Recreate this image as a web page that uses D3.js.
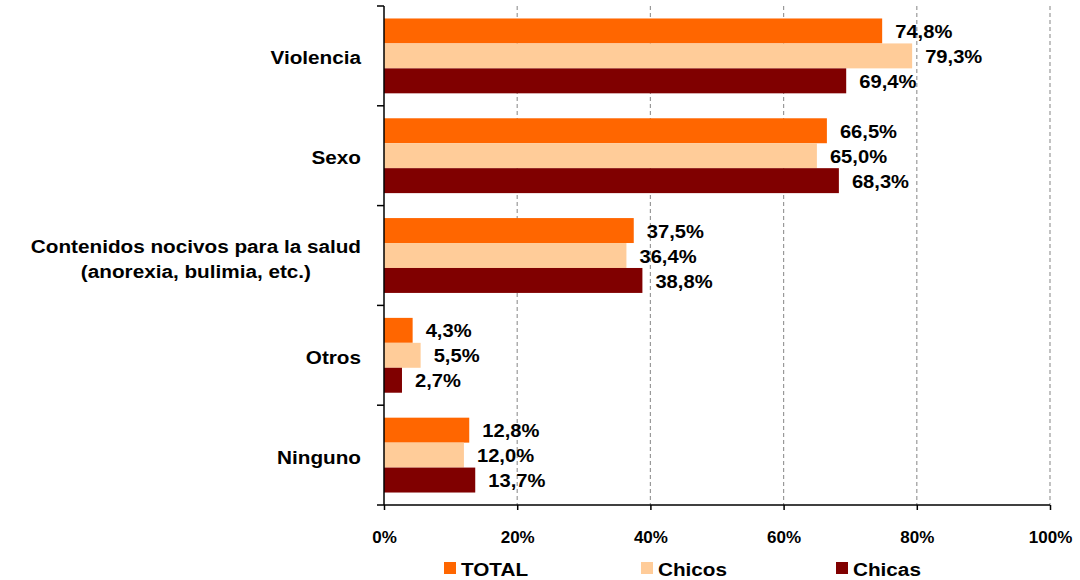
<!DOCTYPE html>
<html>
<head>
<meta charset="utf-8">
<script src="https://cdn.jsdelivr.net/npm/d3@7/dist/d3.min.js"></script>
<style>
html,body{margin:0;padding:0;background:#fff;}
svg{display:block;}
text{font-family:"Liberation Sans",Arial,sans-serif;font-weight:bold;fill:#000;}
</style>
</head>
<body>
<svg id="chart" width="1080" height="580"></svg>
<script>
const categories = [["Violencia"], ["Sexo"], ["Contenidos nocivos para la salud", "(anorexia, bulimia, etc.)"], ["Otros"], ["Ninguno"]];
const seriesNames = ["TOTAL", "Chicos", "Chicas"];
const totalValues = [74.8, 66.5, 37.5, 4.3, 12.8];
const chicosValues = [79.3, 65.0, 36.4, 5.5, 12.0];
const chicasValues = [69.4, 68.3, 38.8, 2.7, 13.7];
const colors = ["#FF6600", "#FFCC99", "#800000"];
const xTicks = [0, 20, 40, 60, 80, 100];

const seriesValues = [totalValues, chicosValues, chicasValues];
const catKeys = categories.map(c => c.join(" "));

const svg = d3.select("#chart");
const pLeft = 384, pRight = 1050, pTop = 6, pBottom = 505;
const SX = 1.12; // horizontal text stretch

const x = d3.scaleLinear().domain([0, 100]).range([pLeft, pRight]);
const y0 = d3.scaleBand().domain(catKeys).range([pTop, pBottom]).paddingInner(0.25).paddingOuter(0.125);
const y1 = d3.scaleBand().domain(seriesNames).range([0, y0.bandwidth()]);

const loc = d3.formatLocale({decimal: ",", thousands: ".", grouping: [3], currency: ["", "€"]});
const fmt = loc.format(".1f");

// gridlines
svg.append("g").selectAll("line").data(xTicks.filter(t => t > 0)).join("line")
  .attr("x1", d => x(d)).attr("x2", d => x(d))
  .attr("y1", pTop).attr("y2", pBottom)
  .attr("stroke", "#999").attr("stroke-width", 1.2).attr("stroke-dasharray", "4,3");

// bars
const groups = svg.append("g").selectAll("g").data(catKeys).join("g")
  .attr("transform", d => `translate(0,${y0(d)})`);

groups.each(function(cat, ci) {
  const g = d3.select(this);
  seriesNames.forEach((s, si) => {
    const v = seriesValues[si][ci];
    g.append("rect")
      .attr("x", x(0)).attr("y", y1(s))
      .attr("width", x(v) - x(0)).attr("height", y1.bandwidth())
      .attr("fill", colors[si]);
    g.append("text")
      .attr("transform", `translate(${x(v) + 13},${y1(s) + y1.bandwidth() / 2 + 1}) scale(${SX},1)`)
      .attr("dominant-baseline", "central")
      .attr("font-size", 18)
      .text(fmt(v) + "%");
  });
});

// x axis
const xAxis = d3.axisBottom(x).tickValues(xTicks).tickSize(5).tickFormat(d => d + "%");
const gx = svg.append("g").attr("transform", `translate(0,${pBottom})`).call(xAxis);
gx.select(".domain").attr("stroke", "#000").attr("stroke-width", 1.5).attr("d", `M${pLeft},0H${pRight}`);
gx.selectAll(".tick line").attr("stroke", "#000").attr("stroke-width", 1.5);
gx.selectAll(".tick text").attr("font-size", 17).attr("font-family", "Liberation Sans, Arial, sans-serif")
  .attr("font-weight", "bold").attr("fill", "#000").attr("y", 0).attr("dy", 0)
  .attr("transform", "translate(0,38)");

// y axis line and boundary ticks
svg.append("line").attr("x1", pLeft).attr("x2", pLeft).attr("y1", pTop).attr("y2", pBottom)
  .attr("stroke", "#000").attr("stroke-width", 1.5);
const boundaries = catKeys.map((c, i) => pTop + i * y0.step());
boundaries.push(pBottom);
svg.append("g").selectAll("line").data(boundaries).join("line")
  .attr("x1", pLeft - 7).attr("x2", pLeft).attr("y1", d => d).attr("y2", d => d)
  .attr("stroke", "#000").attr("stroke-width", 1.5);

// category labels
categories.forEach((lines, ci) => {
  const cy = y0(catKeys[ci]) + y0.bandwidth() / 2 + (lines.length > 1 ? 3 : 2);
  const t = svg.append("text").attr("font-size", 18.5)
    .attr("transform", `translate(361,${cy}) scale(${SX},1)`);
  const lh = 25;
  lines.forEach((ln, li) => {
    t.append("tspan").text(ln)
      .attr("y", (li - (lines.length - 1) / 2) * lh)
      .attr("dominant-baseline", "central");
  });
  if (lines.length === 1) {
    t.attr("text-anchor", "end");
    t.selectAll("tspan").attr("x", 0);
  } else {
    let maxW = 0;
    t.selectAll("tspan").each(function() { maxW = Math.max(maxW, this.getComputedTextLength()); });
    t.attr("text-anchor", "middle");
    t.selectAll("tspan").attr("x", -maxW / 2);
  }
});

// legend
const legendX = [444, 641, 836];
const lg = svg.append("g").selectAll("g").data(seriesNames).join("g")
  .attr("transform", (d, i) => `translate(${legendX[i]},568)`);
lg.append("rect").attr("x", 0).attr("y", -6).attr("width", 12).attr("height", 12)
  .attr("fill", (d, i) => colors[i]);
lg.append("text").attr("transform", `translate(17,1) scale(${SX},1)`).attr("dominant-baseline", "central")
  .attr("font-size", 18.5).text(d => d);
</script>
</body>
</html>
